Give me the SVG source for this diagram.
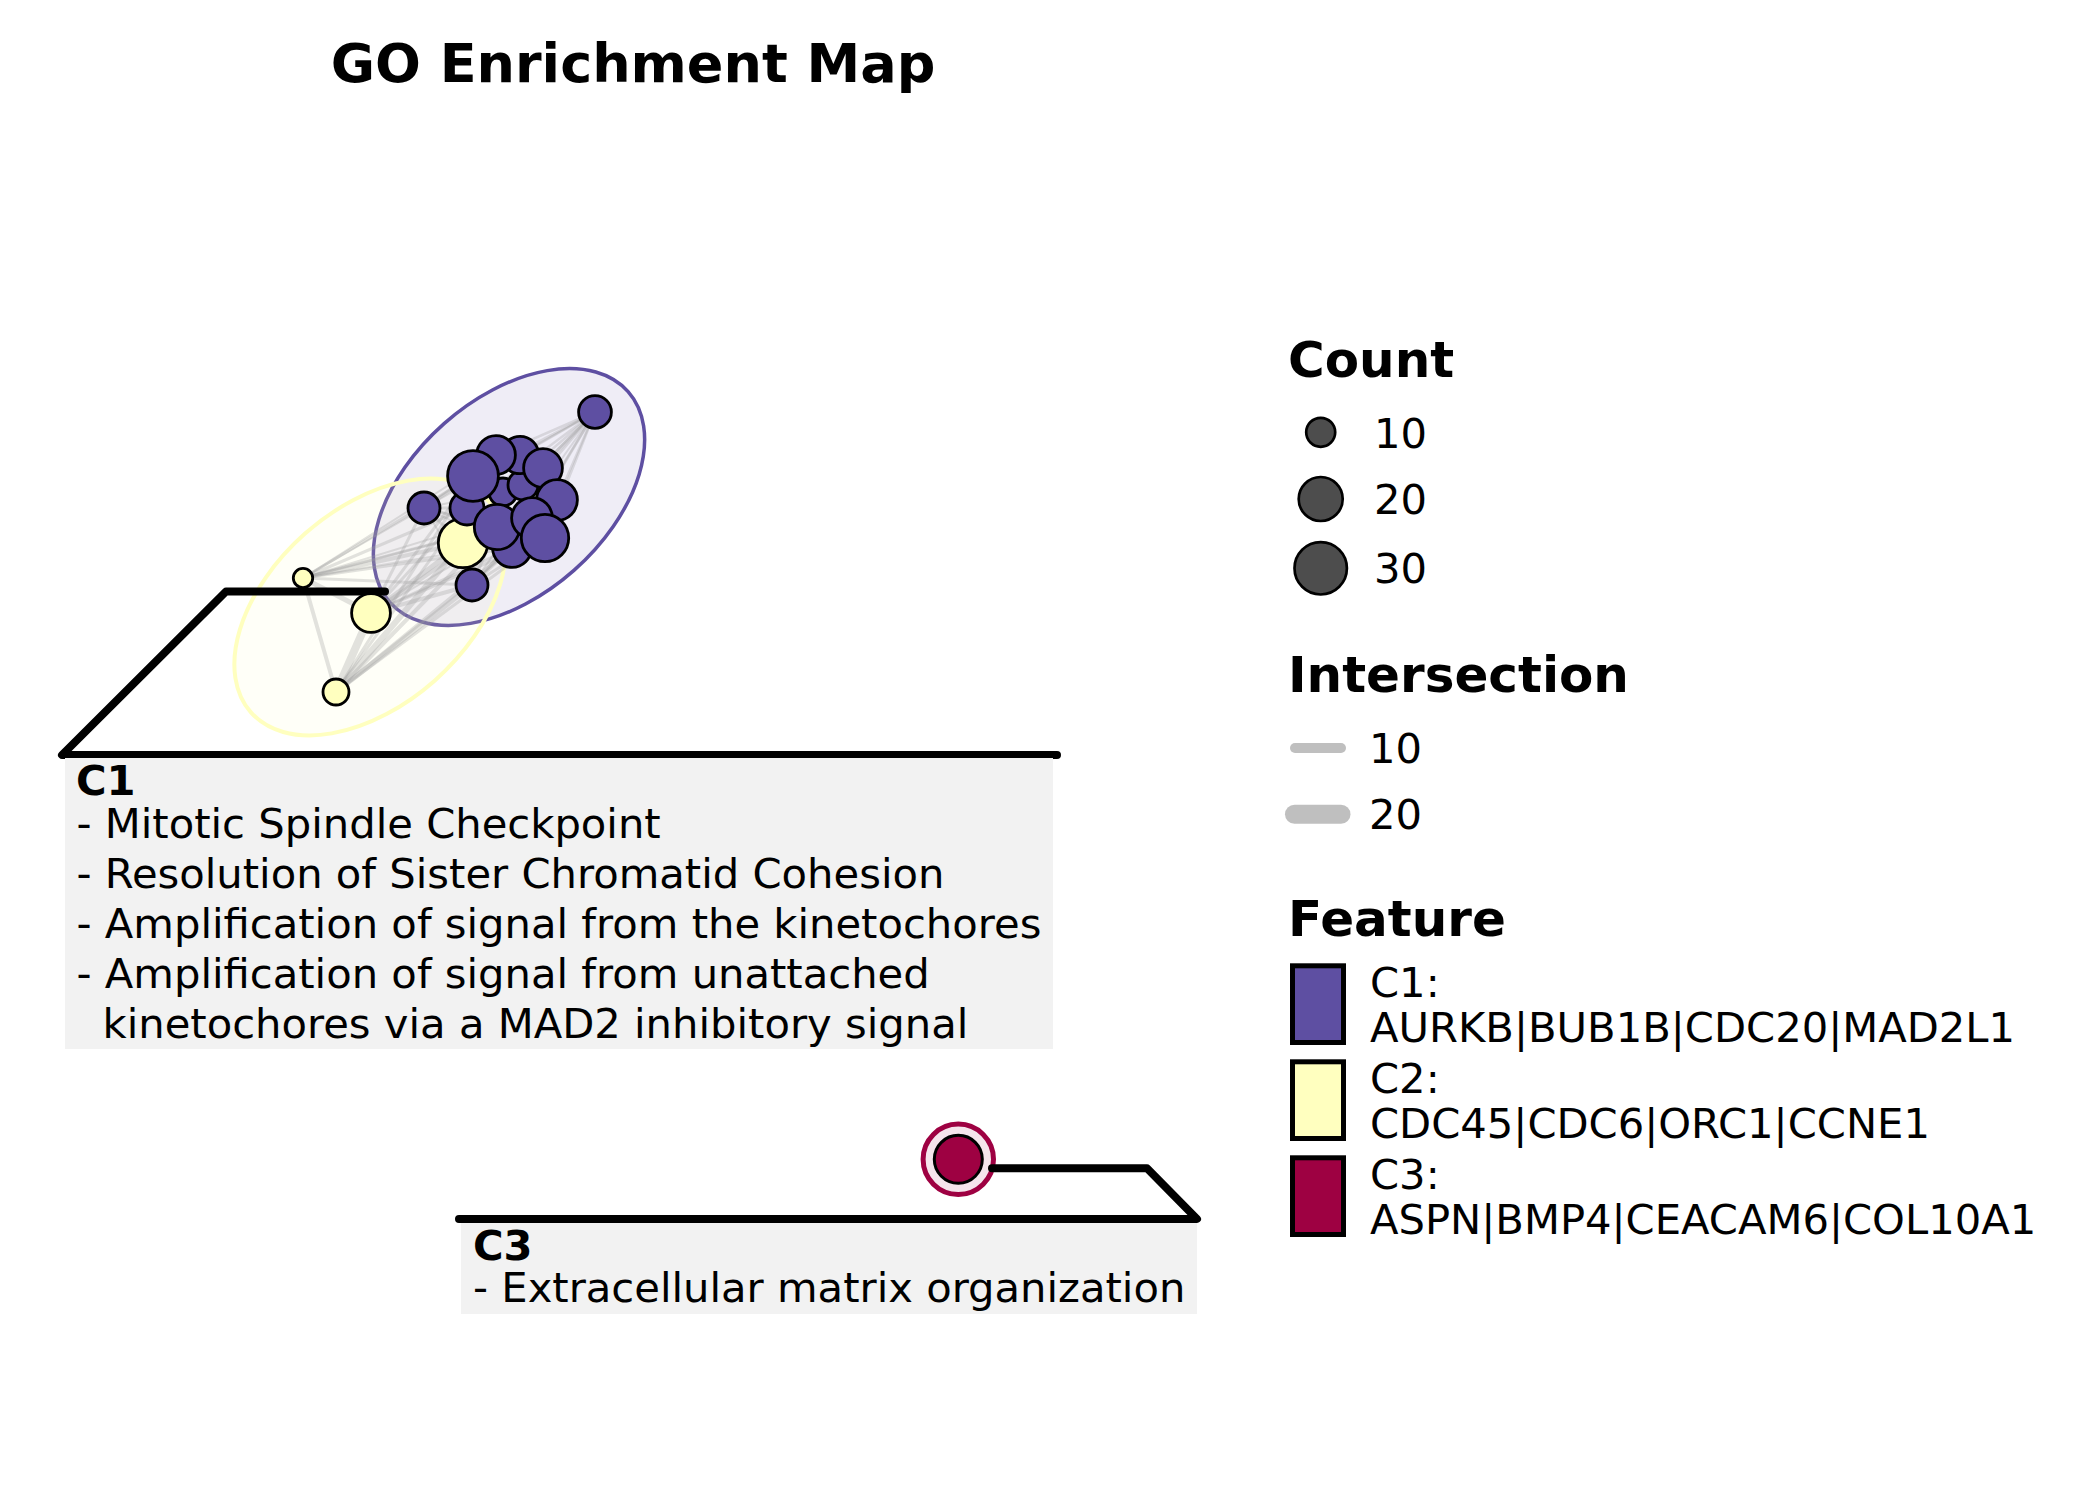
<svg xmlns="http://www.w3.org/2000/svg" width="2100" height="1500" viewBox="0 0 2100 1500">
<style>
text{font-family:"DejaVu Sans","Liberation Sans",sans-serif;fill:#000}
.title{font-size:54px;font-weight:bold}
.lt{font-size:50px;font-weight:bold}
.t{font-size:41.7px}
.tb{font-size:41.7px;font-weight:bold}
.c1{fill:#5e4fa2;stroke:#000;stroke-width:2.8}
.c2{fill:#ffffbf;stroke:#000;stroke-width:2.8}
.c3{fill:#9e0142;stroke:#000;stroke-width:3}
.lc{fill:#4d4d4d;stroke:#000;stroke-width:2.7}
.e{stroke:#a0a0a0;stroke-opacity:0.3;stroke-linecap:round;fill:none}
.lead{stroke:#000;stroke-width:8;fill:none;stroke-linecap:round;stroke-linejoin:round}
.box{fill:#f2f2f2}
</style>
<rect width="2100" height="1500" fill="#fff"/>
<text class="title" x="633" y="82" text-anchor="middle">GO Enrichment Map</text>

<g id="cluster-hulls">
<ellipse cx="509" cy="497" rx="159" ry="98" transform="rotate(-41.5 509 497)" fill="#5e4fa2" fill-opacity="0.1" stroke="#5e4fa2" stroke-width="3.5"/>
<ellipse cx="370" cy="607" rx="159" ry="98" transform="rotate(-41.5 370 607)" fill="#ffffbf" fill-opacity="0.1" stroke="#ffffbf" stroke-width="4"/>
<circle cx="958.3" cy="1159.3" r="35.2" fill="#9e0142" fill-opacity="0.1" stroke="#9e0142" stroke-width="5"/>
</g>

<g id="connectors">
<g id="edges">
<line class="e" stroke-width="2.5" x1="595" y1="412" x2="473" y2="476"/>
<line class="e" stroke-width="2.5" x1="595" y1="412" x2="496" y2="455"/>
<line class="e" stroke-width="2.5" x1="595" y1="412" x2="520" y2="455"/>
<line class="e" stroke-width="2.5" x1="595" y1="412" x2="543" y2="468"/>
<line class="e" stroke-width="2.5" x1="595" y1="412" x2="557" y2="500"/>
<line class="e" stroke-width="2.5" x1="595" y1="412" x2="497" y2="527"/>
<line class="e" stroke-width="2.5" x1="595" y1="412" x2="532" y2="518"/>
<line class="e" stroke-width="2.5" x1="595" y1="412" x2="545" y2="538"/>
<line class="e" stroke-width="2.5" x1="595" y1="412" x2="512" y2="548"/>
<line class="e" stroke-width="2.5" x1="595" y1="412" x2="467" y2="508"/>
<line class="e" stroke-width="2.5" x1="595" y1="412" x2="503" y2="492"/>
<line class="e" stroke-width="2.5" x1="595" y1="412" x2="523" y2="485"/>
<line class="e" stroke-width="2" x1="595" y1="412" x2="424" y2="508"/>
<line class="e" stroke-width="2" x1="595" y1="412" x2="472" y2="585"/>
<line class="e" stroke-width="2" x1="595" y1="412" x2="463" y2="543"/>
<line class="e" stroke-width="4" x1="303" y1="578" x2="463" y2="543"/>
<line class="e" stroke-width="3" x1="303" y1="578" x2="467" y2="508"/>
<line class="e" stroke-width="3" x1="303" y1="578" x2="497" y2="527"/>
<line class="e" stroke-width="3" x1="303" y1="578" x2="473" y2="476"/>
<line class="e" stroke-width="2" x1="303" y1="578" x2="424" y2="508"/>
<line class="e" stroke-width="3" x1="303" y1="578" x2="472" y2="585"/>
<line class="e" stroke-width="3" x1="303" y1="578" x2="512" y2="548"/>
<line class="e" stroke-width="2" x1="303" y1="578" x2="545" y2="538"/>
<line class="e" stroke-width="5" x1="303" y1="578" x2="371" y2="613"/>
<line class="e" stroke-width="4" x1="303" y1="578" x2="336" y2="692"/>
<line class="e" stroke-width="2" x1="303" y1="578" x2="557" y2="500"/>
<line class="e" stroke-width="2" x1="303" y1="578" x2="532" y2="518"/>
<line class="e" stroke-width="2" x1="303" y1="578" x2="496" y2="455"/>
<line class="e" stroke-width="8" x1="336" y1="692" x2="371" y2="613"/>
<line class="e" stroke-width="5" x1="336" y1="692" x2="472" y2="585"/>
<line class="e" stroke-width="6" x1="336" y1="692" x2="463" y2="543"/>
<line class="e" stroke-width="4" x1="336" y1="692" x2="497" y2="527"/>
<line class="e" stroke-width="4" x1="336" y1="692" x2="512" y2="548"/>
<line class="e" stroke-width="3" x1="336" y1="692" x2="467" y2="508"/>
<line class="e" stroke-width="3" x1="336" y1="692" x2="473" y2="476"/>
<line class="e" stroke-width="3" x1="336" y1="692" x2="545" y2="538"/>
<line class="e" stroke-width="4" x1="371" y1="613" x2="472" y2="585"/>
<line class="e" stroke-width="5" x1="371" y1="613" x2="463" y2="543"/>
<line class="e" stroke-width="4" x1="371" y1="613" x2="497" y2="527"/>
<line class="e" stroke-width="3" x1="371" y1="613" x2="467" y2="508"/>
<line class="e" stroke-width="3" x1="371" y1="613" x2="424" y2="508"/>
<line class="e" stroke-width="3" x1="371" y1="613" x2="473" y2="476"/>
<line class="e" stroke-width="3" x1="371" y1="613" x2="512" y2="548"/>
<line class="e" stroke-width="3" x1="371" y1="613" x2="545" y2="538"/>
<line class="e" stroke-width="2" x1="371" y1="613" x2="532" y2="518"/>
<line class="e" stroke-width="3" x1="424" y1="508" x2="473" y2="476"/>
<line class="e" stroke-width="3" x1="424" y1="508" x2="467" y2="508"/>
<line class="e" stroke-width="3" x1="424" y1="508" x2="497" y2="527"/>
<line class="e" stroke-width="3" x1="424" y1="508" x2="463" y2="543"/>
<line class="e" stroke-width="2" x1="424" y1="508" x2="496" y2="455"/>
<line class="e" stroke-width="2" x1="424" y1="508" x2="503" y2="492"/>
<line class="e" stroke-width="2" x1="424" y1="508" x2="545" y2="538"/>
<line class="e" stroke-width="2" x1="424" y1="508" x2="472" y2="585"/>
<line class="e" stroke-width="2" x1="424" y1="508" x2="512" y2="548"/>
<line class="e" stroke-width="3" x1="472" y1="585" x2="463" y2="543"/>
<line class="e" stroke-width="3" x1="472" y1="585" x2="497" y2="527"/>
<line class="e" stroke-width="3" x1="472" y1="585" x2="512" y2="548"/>
<line class="e" stroke-width="3" x1="472" y1="585" x2="545" y2="538"/>
<line class="e" stroke-width="2" x1="472" y1="585" x2="467" y2="508"/>
<line class="e" stroke-width="2" x1="472" y1="585" x2="473" y2="476"/>
<line class="e" stroke-width="2" x1="472" y1="585" x2="532" y2="518"/>
<line class="e" stroke-width="2" x1="472" y1="585" x2="557" y2="500"/>
</g>
<g id="leaders">
<path class="lead" d="M385 591.5 H226 L62 755 H1057"/>
<path class="lead" d="M992 1168.3 H1147 L1197 1219 H459"/>
</g>
</g>

<g id="node-Y1"><circle class="c2" cx="463" cy="543" r="24.7"/></g>
<g id="node-P12"><circle class="c1" cx="512" cy="548" r="19.4"/></g>
<g id="node-P14"><circle class="c1" cx="503" cy="492" r="14"/></g>
<g id="node-P15"><circle class="c1" cx="523" cy="485" r="15"/></g>
<g id="node-P13"><circle class="c1" cx="467" cy="508" r="17"/></g>
<g id="node-P6"><circle class="c1" cx="520" cy="455" r="18.7"/></g>
<g id="node-P5"><circle class="c1" cx="496" cy="455" r="19.4"/></g>
<g id="node-P7"><circle class="c1" cx="543" cy="468" r="19.4"/></g>
<g id="node-P8"><circle class="c1" cx="557" cy="500" r="20.4"/></g>
<g id="node-P9"><circle class="c1" cx="497" cy="527" r="22.7"/></g>
<g id="node-P10"><circle class="c1" cx="532" cy="518" r="20.4"/></g>
<g id="node-P11"><circle class="c1" cx="545" cy="538" r="23.7"/></g>
<g id="node-P4"><circle class="c1" cx="473" cy="476" r="25.4"/></g>
<g id="node-P2"><circle class="c1" cx="424" cy="508" r="16"/></g>
<g id="node-P3"><circle class="c1" cx="472" cy="585" r="16"/></g>
<g id="node-P1"><circle class="c1" cx="595" cy="412" r="16.4"/></g>
<g id="node-Y2"><circle class="c2" cx="371" cy="613" r="19.4"/></g>
<g id="node-Y3"><circle class="c2" cx="303" cy="578" r="9.7"/></g>
<g id="node-Y4"><circle class="c2" cx="336" cy="692" r="13"/></g>
<g id="node-C3"><circle class="c3" cx="958.3" cy="1159.3" r="24"/></g>

<g id="label-C1">
<rect class="box" x="65" y="758" width="988" height="291"/>
<text class="tb" x="76" y="795">C1</text>
<text class="t" x="76.5" y="838">- Mitotic Spindle Checkpoint</text>
<text class="t" x="76.5" y="888">- Resolution of Sister Chromatid Cohesion</text>
<text class="t" x="76.5" y="938">- Amplification of signal from the kinetochores</text>
<text class="t" x="76.5" y="988">- Amplification of signal from unattached</text>
<text class="t" x="102.5" y="1038">kinetochores via a MAD2 inhibitory signal</text>
</g>
<g id="label-C3">
<rect class="box" x="461" y="1223" width="736" height="91"/>
<text class="tb" x="473" y="1260">C3</text>
<text class="t" x="473" y="1301.7">- Extracellular matrix organization</text>
</g>

<g id="legend-count">
<text class="lt" x="1288" y="377">Count</text>
<circle class="lc" cx="1320.7" cy="432.3" r="14.5"/>
<circle class="lc" cx="1320.7" cy="499" r="22"/>
<circle class="lc" cx="1320.7" cy="568.3" r="26.2"/>
<text class="t" x="1374" y="447.7">10</text>
<text class="t" x="1374" y="514">20</text>
<text class="t" x="1374" y="583.3">30</text>
</g>
<g id="legend-intersection">
<text class="lt" x="1288" y="691.7">Intersection</text>
<line x1="1295" y1="748" x2="1341" y2="748" stroke="#bfbfbf" stroke-width="10" stroke-linecap="round"/>
<line x1="1294.5" y1="814.3" x2="1341" y2="814.3" stroke="#bfbfbf" stroke-width="19" stroke-linecap="round"/>
<text class="t" x="1369" y="762.7">10</text>
<text class="t" x="1369" y="829.3">20</text>
</g>
<g id="legend-feature">
<text class="lt" x="1288" y="936">Feature</text>
<rect x="1292.5" y="965.8" width="51" height="76.7" fill="#5e4fa2" stroke="#000" stroke-width="5"/>
<rect x="1292.5" y="1061.8" width="51" height="76.7" fill="#ffffbf" stroke="#000" stroke-width="5"/>
<rect x="1292.5" y="1157.8" width="51" height="76.7" fill="#9e0142" stroke="#000" stroke-width="5"/>
<text class="t" x="1370" y="997.3">C1:</text>
<text class="t" x="1370" y="1042.3">AURKB|BUB1B|CDC20|MAD2L1</text>
<text class="t" x="1370" y="1093.3">C2:</text>
<text class="t" x="1370" y="1137.7">CDC45|CDC6|ORC1|CCNE1</text>
<text class="t" x="1370" y="1189.3">C3:</text>
<text class="t" x="1370" y="1234">ASPN|BMP4|CEACAM6|COL10A1</text>
</g>
</svg>
